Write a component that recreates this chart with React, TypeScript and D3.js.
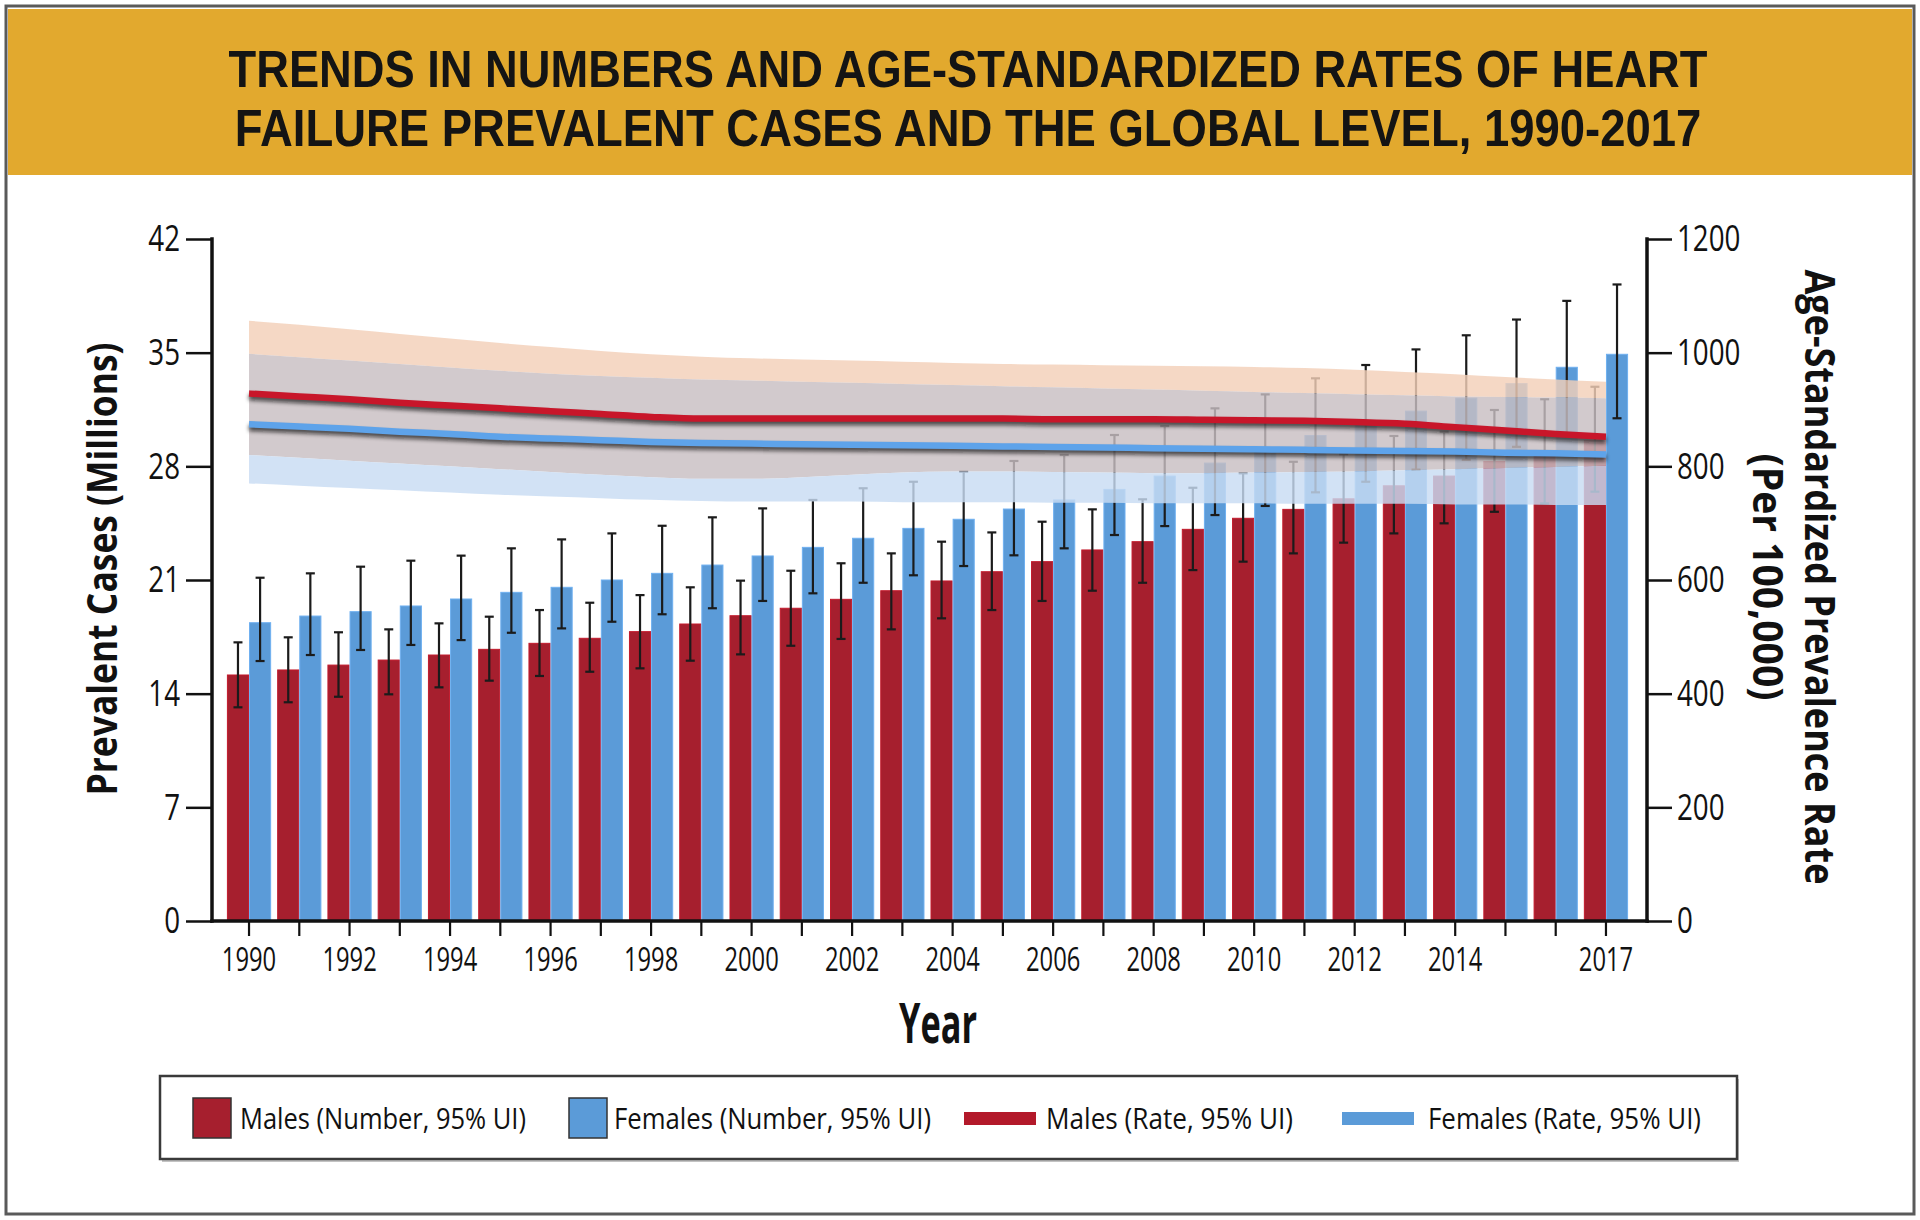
import React, { useEffect, useRef } from 'react';
import * as d3 from 'd3';

// ---- data ----
const years = [1990, 1991, 1992, 1993, 1994, 1995, 1996, 1997, 1998, 1999, 2000, 2001, 2002, 2003,
  2004, 2005, 2006, 2007, 2008, 2009, 2010, 2011, 2012, 2013, 2014, 2015, 2016, 2017];
const labelYears = [1990, 1992, 1994, 1996, 1998, 2000, 2002, 2004, 2006, 2008, 2010, 2012, 2014, 2017];

// prevalent cases, millions
const maleNumber = [15.15, 15.46, 15.76, 16.07, 16.38, 16.73, 17.1, 17.41, 17.82, 18.29, 18.8, 19.26, 19.81, 20.34,
  20.94, 21.51, 22.13, 22.85, 23.36, 24.12, 24.8, 25.35, 26.0, 26.8, 27.4, 28.3, 28.9, 29.6];
const maleNumberLow = [13.16, 13.47, 13.81, 13.96, 14.39, 14.8, 15.09, 15.35, 15.56, 16.03, 16.42, 16.95, 17.37, 17.96,
  18.64, 19.15, 19.71, 20.34, 20.83, 21.61, 22.13, 22.64, 23.3, 23.87, 24.49, 25.2, 25.72, 26.44];
const maleNumberHigh = [17.16, 17.47, 17.78, 17.96, 18.33, 18.74, 19.15, 19.6, 20.07, 20.55, 20.96, 21.57, 22.03, 22.64,
  23.36, 23.93, 24.59, 25.35, 25.97, 26.68, 27.57, 28.28, 28.74, 29.87, 30.13, 31.47, 32.13, 32.9];
const femaleNumber = [18.37, 18.78, 19.05, 19.4, 19.83, 20.24, 20.55, 21.0, 21.41, 21.92, 22.48, 23.01, 23.57, 24.18,
  24.74, 25.37, 25.93, 26.58, 27.4, 28.2, 29.0, 29.9, 30.6, 31.4, 32.2, 33.1, 34.1, 34.9];
const femaleNumberLow = [16.01, 16.38, 16.69, 17.0, 17.3, 17.75, 18.02, 18.43, 18.89, 19.26, 19.71, 20.18, 20.83, 21.29,
  21.86, 22.52, 22.95, 23.77, 24.32, 25.0, 25.56, 26.4, 27.05, 27.8, 28.4, 29.2, 30.0, 30.96];
const femaleNumberHigh = [21.14, 21.41, 21.82, 22.19, 22.5, 22.95, 23.5, 23.87, 24.34, 24.86, 25.41, 25.93, 26.65, 27.05,
  27.67, 28.33, 28.7, 29.93, 30.48, 31.57, 32.43, 33.42, 34.24, 35.2, 36.07, 37.04, 38.19, 39.2];

// age-standardized prevalence rate, per 100,000
const maleRate = [928, 923, 918, 912, 907, 902, 897, 892, 887, 884, 884, 884, 884, 884,
  884, 884, 883, 883, 883, 882, 881, 880, 878, 875, 869, 863, 857, 852];
const maleRateLow = [820, 815, 810, 805, 800, 795, 790, 785, 781, 778, 778, 781, 785, 789,
  791, 791, 790, 789, 788, 788, 789, 790, 791, 793, 795, 797, 799, 801];
const maleRateHigh = [1056, 1049, 1041, 1033, 1025, 1017, 1010, 1003, 997, 993, 990, 988, 986, 984,
  982, 980, 979, 978, 977, 976, 975, 973, 970, 966, 962, 957, 953, 949];
const femaleRate = [874, 870, 866, 861, 857, 852, 849, 846, 843, 841, 840, 839, 838, 837,
  836, 835, 834, 833, 832, 831, 830, 829, 828, 827, 826, 824, 823, 821];
const femaleRateLow = [770, 766, 762, 758, 754, 750, 747, 744, 741, 739, 738, 738, 738, 737,
  737, 737, 736, 736, 735, 735, 735, 734, 734, 734, 733, 733, 732, 732];
const femaleRateHigh = [998, 992, 986, 980, 974, 968, 963, 959, 956, 953, 951, 949, 947, 945,
  943, 941, 939, 937, 935, 933, 931, 929, 927, 925, 923, 922, 921, 920];

const leftTicks = [0, 7, 14, 21, 28, 35, 42];
const rightTicks = [0, 200, 400, 600, 800, 1000, 1200];

const titleLines = [
  'TRENDS IN NUMBERS AND AGE-STANDARDIZED RATES OF HEART',
  'FAILURE PREVALENT CASES AND THE GLOBAL LEVEL, 1990-2017',
];

const legendItems = [
  { label: 'Males (Number, 95% UI)', kind: 'box', color: '#a61f2e' },
  { label: 'Females (Number, 95% UI)', kind: 'box', color: '#5b9bd8' },
  { label: 'Males (Rate, 95% UI)', kind: 'line', color: '#b3192a' },
  { label: 'Females (Rate, 95% UI)', kind: 'line', color: '#5b9bd8' },
];

const W = 1920;
const H = 1220;
const FONT = "'Open Sans', 'Noto Sans', sans-serif";
const RED = '#a61f2e';
const BLUE = '#5b9bd8';

const HeartFailureChart = () => {
  const svgRef = useRef(null);

  useEffect(() => {
    const svg = d3.select(svgRef.current);
    svg.selectAll('*').remove();

    const defs = svg.append('defs');
    defs.append('filter')
      .attr('id', 'lineShadow')
      .attr('x', '-5%').attr('y', '-50%').attr('width', '110%').attr('height', '200%')
      .append('feGaussianBlur')
      .attr('stdDeviation', 2.2);

    // background, frame and title banner
    svg.append('rect').attr('width', W).attr('height', H).attr('fill', '#fff');
    svg.append('rect')
      .attr('x', 8).attr('y', 9).attr('width', 1904).attr('height', 166)
      .attr('fill', '#e2a92e');
    svg.append('rect')
      .attr('x', 6).attr('y', 6).attr('width', 1908).attr('height', 1208)
      .attr('fill', 'none').attr('stroke', '#5a5a5a').attr('stroke-width', 3);

    // title: measure natural width, then squeeze horizontally to the reference width
    const titleY = [87, 146];
    const titleLen = [1479, 1467];
    titleLines.forEach((t, i) => {
      const txt = svg.append('text')
        .attr('text-anchor', 'middle')
        .attr('fill', '#141414')
        .style('font-family', "'Liberation Sans', Arial, sans-serif")
        .style('font-weight', 700)
        .style('font-size', '52px')
        .text(t);
      const natural = txt.node().getComputedTextLength() || titleLen[i];
      txt.attr('transform', `translate(968,${titleY[i]}) scale(${titleLen[i] / natural},1)`);
    });

    // scales
    const axL = 212;
    const axR = 1647;
    const y0 = 921;
    const y1 = 239;
    const x = d3.scaleBand().domain(years.map(String)).range([223.9, 1631.1]);
    const split = (yr) => x(String(yr)) + x.bandwidth() / 2;
    const bw = x.bandwidth() * 0.44;
    const yL = d3.scaleLinear().domain([0, 42]).range([y0, y1]);
    const yR = d3.scaleLinear().domain([0, 1200]).range([y0, y1]);

    const plot = svg.append('g');

    // bars
    const series = [
      { vals: maleNumber, lo: maleNumberLow, hi: maleNumberHigh, color: RED, edge: '#c21a2c', off: -bw },
      { vals: femaleNumber, lo: femaleNumberLow, hi: femaleNumberHigh, color: BLUE, edge: '#6fb0f0', off: 0 },
    ];
    series.forEach((s) => {
      plot.append('g')
        .selectAll('rect')
        .data(years)
        .enter()
        .append('rect')
        .attr('x', (d) => split(d) + s.off + 0.5)
        .attr('y', (d, i) => yL(s.vals[i]))
        .attr('width', bw - 1)
        .attr('height', (d, i) => y0 - yL(s.vals[i]))
        .attr('fill', s.color)
        .attr('stroke', s.edge)
        .attr('stroke-width', 1);
    });

    // error bars
    series.forEach((s) => {
      const g = plot.append('g').attr('stroke', '#1b1b1b').attr('stroke-width', 2.2);
      years.forEach((yr, i) => {
        const cx = split(yr) + s.off + bw / 2;
        g.append('line').attr('x1', cx).attr('x2', cx).attr('y1', yL(s.lo[i])).attr('y2', yL(s.hi[i]));
        g.append('line').attr('x1', cx - 4.5).attr('x2', cx + 4.5).attr('y1', yL(s.hi[i])).attr('y2', yL(s.hi[i]));
        g.append('line').attr('x1', cx - 4.5).attr('x2', cx + 4.5).attr('y1', yL(s.lo[i])).attr('y2', yL(s.lo[i]));
      });
    });

    // uncertainty bands for the rates (male only / overlap / female only)
    const idx = years.map((d, i) => i);
    const bandArea = (lo, hi) => d3.area()
      .x((i) => split(years[i]))
      .y0((i) => yR(lo[i]))
      .y1((i) => yR(hi[i]))
      .curve(d3.curveMonotoneX);
    const bands = [
      { lo: femaleRateHigh, hi: maleRateHigh, fill: '#f3cfb8' },
      { lo: maleRateLow, hi: femaleRateHigh, fill: '#c8bec2' },
      { lo: femaleRateLow, hi: maleRateLow, fill: '#c8dcf3' },
    ];
    bands.forEach((b) => {
      plot.append('path')
        .datum(idx)
        .attr('d', bandArea(b.lo, b.hi))
        .attr('fill', b.fill)
        .attr('fill-opacity', 0.82);
    });

    // rate lines
    const rateLine = (vals) => d3.line()
      .x((i) => split(years[i]))
      .y((i) => yR(vals[i]))
      .curve(d3.curveMonotoneX);
    [
      { vals: maleRate, color: '#c8162a' },
      { vals: femaleRate, color: '#5ea3ea' },
    ].forEach((l) => {
      plot.append('path')
        .datum(idx)
        .attr('d', rateLine(l.vals))
        .attr('transform', 'translate(0,3.5)')
        .attr('fill', 'none')
        .attr('stroke', '#111')
        .attr('stroke-width', 6)
        .attr('opacity', 0.75)
        .attr('filter', 'url(#lineShadow)');
      plot.append('path')
        .datum(idx)
        .attr('d', rateLine(l.vals))
        .attr('fill', 'none')
        .attr('stroke', l.color)
        .attr('stroke-width', 6.5);
    });

    // axes
    const styleAxis = (g, sx, tx) => {
      g.select('.domain').remove();
      g.selectAll('.tick line').attr('stroke', '#111').attr('stroke-width', 2.5);
      g.selectAll('.tick text')
        .attr('fill', '#111')
        .style('font-family', FONT)
        .style('font-size', '37px')
        .attr('x', tx / sx)
        .attr('transform', `scale(${sx},1)`);
    };

    const gL = svg.append('g').attr('transform', `translate(${axL},0)`)
      .call(d3.axisLeft(yL).tickValues(leftTicks).tickSize(26).tickPadding(6).tickSizeOuter(0)
        .tickFormat(d3.format('d')));
    styleAxis(gL, 0.75, -32);

    const gR = svg.append('g').attr('transform', `translate(${axR},0)`)
      .call(d3.axisRight(yR).tickValues(rightTicks).tickSize(25).tickPadding(5).tickSizeOuter(0)
        .tickFormat(d3.format('d')));
    styleAxis(gR, 0.75, 30);

    const gB = svg.append('g').attr('transform', `translate(0,${y0})`)
      .call(d3.axisBottom(x).tickSize(15).tickPadding(12).tickSizeOuter(0)
        .tickFormat((d) => (labelYears.includes(+d) ? d : '')));
    gB.select('.domain').remove();
    gB.selectAll('.tick line').attr('stroke', '#111').attr('stroke-width', 2.2);
    gB.selectAll('.tick text')
      .attr('fill', '#111')
      .style('font-family', FONT)
      .style('font-size', '33px')
      .attr('transform', 'scale(0.72,1)');

    const axisLines = svg.append('g').attr('stroke', '#111').attr('stroke-width', 3.5).attr('stroke-linecap', 'square');
    axisLines.append('line').attr('x1', axL).attr('x2', axL).attr('y1', y1).attr('y2', y0);
    axisLines.append('line').attr('x1', axR).attr('x2', axR).attr('y1', y1).attr('y2', y0);
    axisLines.append('line').attr('x1', axL).attr('x2', axR).attr('y1', y0).attr('y2', y0);

    // axis titles
    const boldText = (sel, size, len, txt) => sel
      .attr('text-anchor', 'middle')
      .attr('textLength', len)
      .attr('lengthAdjust', 'spacingAndGlyphs')
      .attr('fill', '#111')
      .style('font-family', FONT)
      .style('font-weight', 700)
      .style('font-size', `${size}px`)
      .text(txt);

    boldText(svg.append('text').attr('transform', 'translate(117,569) rotate(-90)'), 42, 453, 'Prevalent Cases (Millions)');
    boldText(svg.append('text').attr('transform', 'translate(1805,577) rotate(90)'), 42, 615, 'Age-Standardized Prevalence Rate');
    boldText(svg.append('text').attr('transform', 'translate(1753,577) rotate(90)'), 42, 247, '(Per 100,000)');
    boldText(svg.append('text').attr('x', 938).attr('y', 1043), 56, 78, 'Year');

    // legend
    const legend = svg.append('g');
    legend.append('rect')
      .attr('x', 162).attr('y', 1079).attr('width', 1577).attr('height', 83)
      .attr('fill', '#888').attr('opacity', 0.5);
    legend.append('rect')
      .attr('x', 160).attr('y', 1076).attr('width', 1577).attr('height', 83)
      .attr('fill', '#fff').attr('stroke', '#3a3a3a').attr('stroke-width', 2.5);

    const swatchX = [193, 569, 964, 1342];
    const textX = [240, 614, 1046, 1428];
    const textLen = [286, 317, 247, 273];
    legendItems.forEach((item, i) => {
      if (item.kind === 'box') {
        legend.append('rect')
          .attr('x', swatchX[i]).attr('y', 1098).attr('width', 38).attr('height', 40)
          .attr('fill', item.color).attr('stroke', '#333').attr('stroke-width', 1.5);
      } else {
        legend.append('rect')
          .attr('x', swatchX[i]).attr('y', 1112).attr('width', 72).attr('height', 13)
          .attr('fill', item.color);
      }
      legend.append('text')
        .attr('x', textX[i])
        .attr('y', 1129)
        .attr('textLength', textLen[i])
        .attr('lengthAdjust', 'spacingAndGlyphs')
        .attr('fill', '#111')
        .style('font-family', FONT)
        .style('font-size', '30px')
        .text(item.label);
    });
  }, []);

  return <svg ref={svgRef} width={W} height={H} style={{ display: 'block' }} />;
};

export default function App() {
  return (
    <div style={{ position: 'absolute', left: 0, top: 0 }}>
      <HeartFailureChart />
    </div>
  );
}
